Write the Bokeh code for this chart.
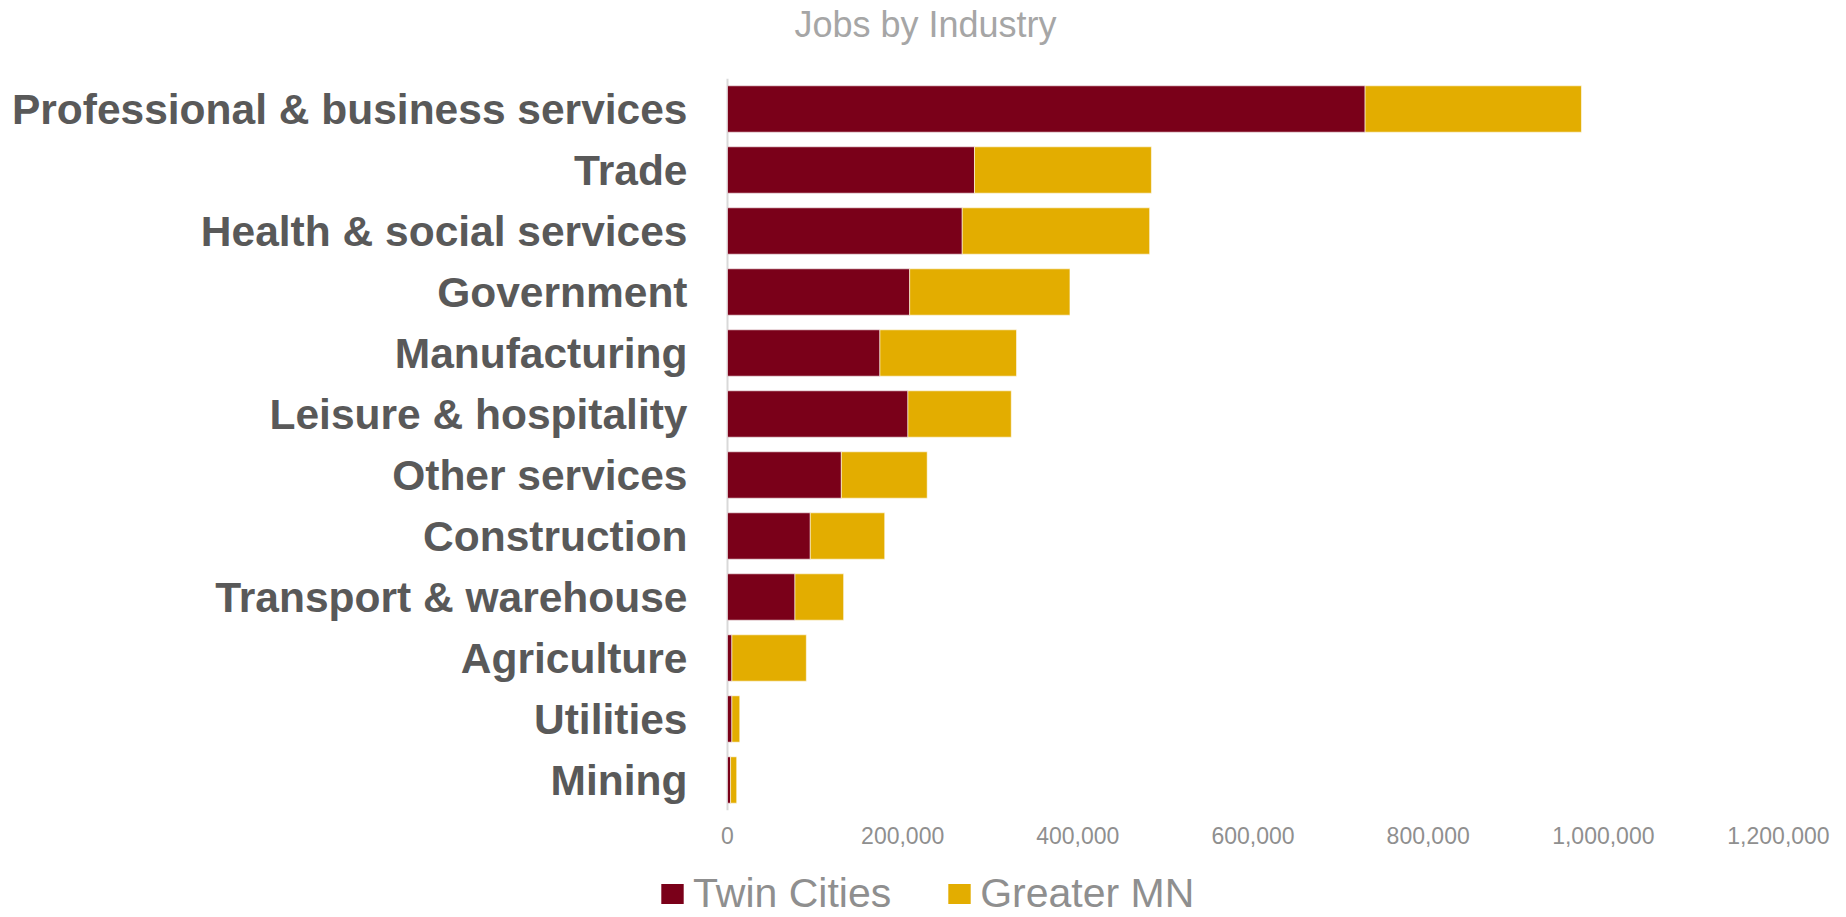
from bokeh.plotting import figure
from bokeh.layouts import column
from bokeh.models import (ColumnDataSource, FactorRange, Range1d, NumeralTickFormatter,
                          FixedTicker, Legend, LegendItem, Span)
from bokeh.core.properties import value
from bokeh.embed import file_html
from bokeh.resources import INLINE

categories = ["Professional & business services", "Trade", "Health & social services",
              "Government", "Manufacturing", "Leisure & hospitality", "Other services",
              "Construction", "Transport & warehouse", "Agriculture", "Utilities", "Mining"]
twin_cities = [728000, 282000, 268000, 208000, 174000, 206000, 130000, 94500, 77000, 5000, 5000, 3500]
greater_mn = [247000, 202000, 214000, 183000, 156000, 118000, 98000, 85000, 55600, 85000, 9000, 7000]
series = ["Twin Cities", "Greater MN"]
colors = ["#7a0019", "#e3ad00"]
x_ticks = [0, 200000, 400000, 600000, 800000, 1000000, 1200000]
chart_title = "Jobs by Industry"

W = 1846
TITLE_H, MAIN_H, LEG_H = 78, 772, 67
AXIS_X, RIGHT = 727, 68          # pixel position of the value axis, right border
FONT = "Liberation Sans"

# ---- title strip (x in pixels) ----
pt = figure(width=W, height=TITLE_H, output_backend="svg", toolbar_location=None,
            x_axis_location=None, y_axis_location=None,
            min_border_left=0, min_border_right=RIGHT, min_border_top=0, min_border_bottom=0,
            x_range=Range1d(0, W - RIGHT), y_range=Range1d(TITLE_H, 0))
pt.outline_line_color = None
pt.xgrid.visible = False
pt.ygrid.visible = False
pt.text(x=[925], y=[24], text=[chart_title], text_align="center", text_baseline="middle",
        text_font=value(FONT), text_font_size="36px", text_color="#a6a6a6")

# ---- main chart: frame spans the whole width, value axis origin sits at AXIS_X ----
x_end = x_ticks[-1]
x_start = -x_end * AXIS_X / (W - RIGHT - AXIS_X)
source = ColumnDataSource(data=dict(cat=categories, tc=twin_cities, gm=greater_mn,
                                    base=[x_ticks[0]] * len(categories)))
p = figure(width=W, height=MAIN_H, output_backend="svg", toolbar_location=None,
           y_range=FactorRange(*reversed(categories)),
           x_range=Range1d(x_start, x_end), y_axis_location=None,
           min_border_left=0, min_border_right=RIGHT, min_border_top=0, min_border_bottom=40)
p.outline_line_color = None
p.xgrid.visible = False
p.ygrid.visible = False

p.add_layout(Span(location=x_ticks[0], dimension="height", line_color="#d9d9d9",
                  line_width=2, level="underlay"))

rs = p.hbar_stack(["tc", "gm"], y="cat", height=0.76, color=colors, source=source,
                  line_color="white", line_width=0.8, line_alpha=0.7)

# category labels, right-aligned against the value axis
p.text(x="base", y="cat", text="cat", source=source, text_align="right",
       text_baseline="middle", x_offset=-40, text_font=value(FONT),
       text_font_style="bold", text_font_size="42.5px", text_color="#595959")

xa = p.xaxis[0]
xa.ticker = FixedTicker(ticks=x_ticks)
xa.formatter = NumeralTickFormatter(format="0,0")
xa.axis_line_color = None
xa.major_tick_line_color = None
xa.minor_tick_line_color = None
xa.major_tick_out = 0
xa.major_tick_in = 0
xa.major_label_standoff = 16
xa.major_label_text_font = FONT
xa.major_label_text_font_size = "23px"
xa.major_label_text_color = "#8f8f8f"

# ---- legend strip ----
pl = figure(width=W, height=LEG_H, output_backend="svg", toolbar_location=None,
            x_axis_location=None, y_axis_location=None,
            min_border_left=0, min_border_right=RIGHT, min_border_top=0, min_border_bottom=0,
            x_range=Range1d(0, 1), y_range=Range1d(0, 1))
pl.outline_line_color = None
pl.xgrid.visible = False
pl.ygrid.visible = False
keys = [pl.hbar(y=[-5], left=[0], right=[1], height=0.1, fill_color=c, line_color=None)
        for c in colors]
legend = Legend(items=[LegendItem(label=s, renderers=[r]) for s, r in zip(series, keys)],
                orientation="horizontal", location=(658, 0),
                label_text_font=FONT, label_text_font_size="41px",
                label_text_color="#8f8f8f", glyph_width=28, glyph_height=25,
                label_standoff=7, spacing=54, padding=0, margin=0,
                label_height=20, border_line_color=None, background_fill_alpha=0)
pl.add_layout(legend)

layout = column(pt, p, pl, spacing=0)
open("out.html", "w").write(file_html(layout, INLINE))
